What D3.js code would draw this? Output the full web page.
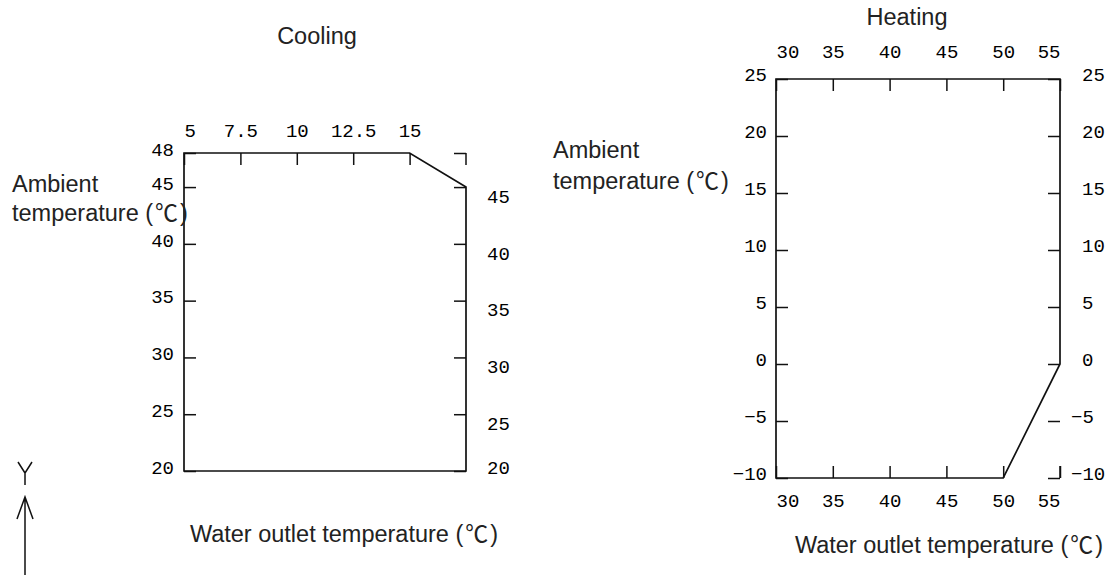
<!DOCTYPE html>
<html>
<head>
<meta charset="utf-8">
<script src="https://cdn.jsdelivr.net/npm/d3@7"></script>
<style>
    body { margin: 0; background: #fff; }
    .lbl { font-family: "Liberation Sans", Arial, sans-serif; font-size: 23.5px; fill: #222; }
    .lbl tspan.deg { font-family: "Noto Sans CJK SC", sans-serif; font-size: 23px; }
    .tick text { font-family: "Liberation Mono", "Courier New", monospace; font-size: 19px; fill: #000; }
    .tick line { stroke: #111; stroke-width: 1.5; }
</style>
</head>
<body>
<svg id="chart" width="1112" height="575"></svg>
<script>
// cooling envelope (water outlet vs ambient)
var coolingXDomain = [5, 17.5];
var coolingYDomain = [20, 48];
var coolingXTicks = [5, 7.5, 10, 12.5, 15];
var coolingLeftTicks = [20, 25, 30, 35, 40, 45, 48];
var coolingRightTicks = [20, 25, 30, 35, 40, 45, 48];
var coolingRightLabels = [20, 25, 30, 35, 40, 45];
var coolingWater = [5, 5, 15, 17.5, 17.5];
var coolingAmbient = [20, 48, 48, 45, 20];

// heating envelope
var heatingXDomain = [30, 55];
var heatingYDomain = [-10, 25];
var heatingXTicks = [30, 35, 40, 45, 50, 55];
var heatingYTicks = [-10, -5, 0, 5, 10, 15, 20, 25];
var heatingWater = [30, 30, 55, 55, 50];
var heatingAmbient = [-10, 25, 25, 0, -10];

var svg = d3.select("#chart");

var fmt = function(d) { return String(d).replace("-", "\u2212"); };

//draw one envelope chart
var drawEnvelope = function(opt) {
    var x = d3.scaleLinear().domain(opt.xDomain).range(opt.xRange);
    var y = d3.scaleLinear().domain(opt.yDomain).range(opt.yRange);
    var g = svg.append("g");
    var tk = opt.tick;

    //left axis, ticks pointing inside
    var left = g.append("g")
        .attr("transform", "translate(" + opt.xRange[0] + ",0)")
        .call(d3.axisLeft(y).tickValues(opt.leftTicks).tickSize(-tk).tickPadding(opt.leftPad).tickFormat(fmt));
    left.select(".domain").remove();
    left.selectAll("text").attr("dy", opt.leftDy);

    //right axis
    var right = g.append("g")
        .attr("transform", "translate(" + opt.xRange[1] + ",0)")
        .call(d3.axisRight(y).tickValues(opt.rightTicks).tickSize(-tk).tickPadding(opt.rightPad)
            .tickFormat(function(d) { return opt.rightLabels.indexOf(d) < 0 ? "" : fmt(d); }));
    right.select(".domain").remove();
    right.selectAll("text").each(opt.rightText);

    //top axis
    var top = g.append("g")
        .attr("transform", "translate(0," + opt.yRange[1] + ")")
        .call(d3.axisTop(x).tickValues(opt.xTicks).tickSize(-tk).tickPadding(opt.topPad).tickFormat(fmt));
    top.select(".domain").remove();
    top.selectAll("text").attr("text-anchor", function(d, i) {
        return i === 0 ? "start" : (d === opt.xDomain[1] ? "end" : "middle");
    });

    //bottom axis (heating only)
    if (opt.bottom) {
        var bottom = g.append("g")
            .attr("transform", "translate(0," + opt.yRange[0] + ")")
            .call(d3.axisBottom(x).tickValues(opt.xTicks).tickSize(-tk).tickPadding(opt.bottomPad).tickFormat(fmt));
        bottom.select(".domain").remove();
        bottom.selectAll("text").attr("text-anchor", function(d, i) {
            return i === 0 ? "start" : (d === opt.xDomain[1] ? "end" : "middle");
        });
    }

    //little stub of the right axis line
    var sy = y(opt.stubAt);
    g.append("line")
        .attr("x1", opt.xRange[1]).attr("x2", opt.xRange[1])
        .attr("y1", sy).attr("y2", sy + opt.stubDir * tk)
        .attr("stroke", "#111").attr("stroke-width", 1.5);

    //envelope outline
    var pts = opt.water.map(function(w, i) { return [w, opt.ambient[i]]; });
    var line = d3.line()
        .x(function(d) { return x(d[0]); })
        .y(function(d) { return y(d[1]); })
        .curve(d3.curveLinearClosed);
    g.append("path")
        .datum(pts)
        .attr("fill", "none")
        .attr("stroke", "#111")
        .attr("stroke-width", 1.7)
        .attr("stroke-linejoin", "miter")
        .attr("d", line);
};

drawEnvelope({
    xDomain: coolingXDomain, yDomain: coolingYDomain,
    xRange: [184, 466], yRange: [471, 153],
    xTicks: coolingXTicks, leftTicks: coolingLeftTicks, rightTicks: coolingRightTicks,
    rightLabels: coolingRightLabels,
    water: coolingWater, ambient: coolingAmbient,
    tick: 12, leftPad: 10, rightPad: 21, topPad: 16, leftDy: "0.12em",
    rightText: function(d) {
        d3.select(this).attr("dy", d === coolingYDomain[0] ? "0.12em" : "0.8em");
    },
    stubAt: 48, stubDir: 1
});

drawEnvelope({
    xDomain: heatingXDomain, yDomain: heatingYDomain,
    xRange: [776, 1060], yRange: [478, 79],
    xTicks: heatingXTicks, leftTicks: heatingYTicks, rightTicks: heatingYTicks,
    rightLabels: heatingYTicks,
    water: heatingWater, ambient: heatingAmbient,
    tick: 12, leftPad: 9, rightPad: 22, topPad: 21, bottomPad: 16, bottom: true, leftDy: "0.1em",
    rightText: function(d) {
        d3.select(this).attr("dy", "0.1em").attr("dx", d < 0 ? -11 : 0);
    },
    stubAt: -10, stubDir: -1
});

//titles and axis names, a trailing ℃ goes in its own tspan
var texts = [
    ["Cooling", "", 317, 44, "middle"],
    ["Ambient", "", 12, 192, "start"],
    ["temperature (", ")", 12, 221, "start"],
    ["Water outlet temperature (", ")", 344, 542, "middle"],
    ["Heating", "", 907, 25, "middle"],
    ["Ambient", "", 553, 158, "start"],
    ["temperature (", ")", 553, 189, "start"],
    ["Water outlet temperature (", ")", 949, 553, "middle"]
];
var lbl = svg.selectAll("text.lbl")
    .data(texts)
    .enter().append("text")
    .attr("class", "lbl")
    .attr("x", function(d) { return d[2]; })
    .attr("y", function(d) { return d[3]; })
    .attr("text-anchor", function(d) { return d[4]; });
lbl.append("tspan").text(function(d) { return d[0]; });
lbl.filter(function(d) { return d[1] !== ""; }).each(function(d) {
    var t = d3.select(this);
    t.append("tspan").attr("class", "deg").attr("dx", 2).text("\u2103");
    t.append("tspan").attr("dx", 2).text(d[1]);
});

//Y arrow in the corner
var arrow = svg.append("g").attr("fill", "none").attr("stroke", "#111").attr("stroke-width", 1.5);
arrow.append("path").attr("d", "M18,462 L25,473 L32,462 M25,473 L25,485");
arrow.append("path").attr("d", "M25,575 L25,497 M17,519 L25,497 L33,519");
</script>
</body>
</html>
